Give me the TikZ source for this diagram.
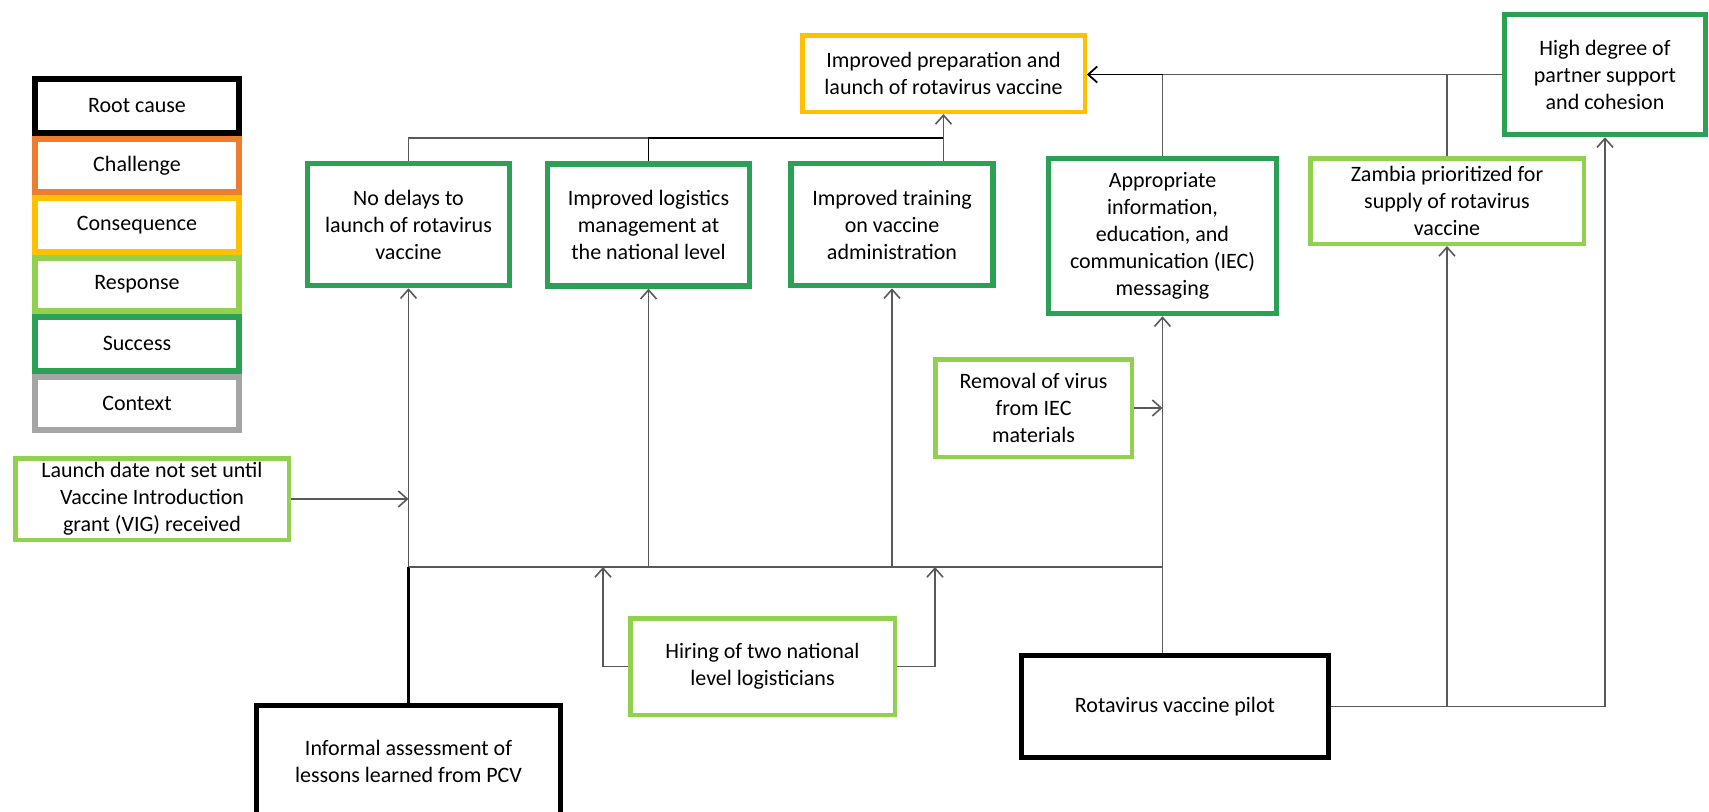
\documentclass[tikz,border=0pt]{standalone}
\usepackage{fontspec}
\setmainfont{Carlito}
\usetikzlibrary{positioning,arrows.meta}
\definecolor{croot}{RGB}{0,0,0}
\definecolor{cchall}{RGB}{237,125,49}
\definecolor{ccons}{RGB}{255,192,0}
\definecolor{cresp}{RGB}{146,208,80}
\definecolor{csucc}{RGB}{44,160,84}
\definecolor{cctx}{RGB}{165,165,165}
\definecolor{cline}{RGB}{89,89,89}

\begin{document}
\begin{tikzpicture}[x=0.5pt,y=-0.5pt,
  font=\fontsize{11}{13.5}\selectfont,
  box/.style={draw,fill=white,align=center,inner sep=2pt},
  key/.style={box,line width=3pt,minimum width=102pt,minimum height=26.75pt},
  root/.style={box,draw=croot,line width=2.5pt},
  cons/.style={box,draw=ccons,line width=2.25pt},
  resp/.style={box,draw=cresp,line width=2.25pt},
  succ/.style={box,draw=csucc,line width=2.75pt},
  link/.style={cline,line width=0.8pt},
  arr/.style={link,-{Straight Barb[length=4.5pt,width=8pt]}},
  rootln/.style={croot,line width=1.5pt},
]
\useasboundingbox (0,0) rectangle (1709,811);

% legend
\node[key,draw=croot] (kroot) at (137,105.75) {Root cause};
\node[key,draw=cchall,below=0pt of kroot] (kchall) {Challenge};
\node[key,draw=ccons,below=0pt of kchall] (kcons) {Consequence};
\node[key,draw=cresp,below=0pt of kcons] (kresp) {Response};
\node[key,draw=csucc,below=0pt of kresp] (ksucc) {Success};
\node[key,draw=cctx,below=0pt of ksucc] (kctx) {Context};

% outcome at the top
\node[cons,minimum width=141.25pt,minimum height=38.25pt] (prep) at (943.5,73.5)
  {Improved preparation and\\launch of rotavirus vaccine};

% successes
\node[succ,minimum width=101pt,minimum height=61pt] (nodelay) at (408.5,224.5)
  {No delays to\\launch of rotavirus\\vaccine};
\node[succ,minimum width=101pt,minimum height=61pt] (logist) at (648.5,225)
  {Improved logistics\\management at\\the national level};
\node[succ,minimum width=101pt,minimum height=61pt] (train) at (892,224.5)
  {Improved training\\on vaccine\\administration};
\node[succ,minimum width=114pt,minimum height=77.5pt] (iec) at (1162.5,236)
  {Appropriate\\information,\\education, and\\communication (IEC)\\messaging};
\node[succ,minimum width=100.5pt,minimum height=60pt] (partner) at (1605,74.5)
  {High degree of\\partner support\\and cohesion};

% responses
\node[resp,minimum width=136.75pt,minimum height=42.75pt] (zambia) at (1447,201)
  {Zambia prioritized for\\supply of rotavirus\\vaccine};
\node[resp,minimum width=136.75pt,minimum height=40.75pt] (launch) at (152,499)
  {Launch date not set until\\Vaccine Introduction\\grant (VIG) received};
\node[resp,minimum width=98.25pt,minimum height=48.75pt] (removal) at (1033.5,408)
  {Removal of virus\\from IEC\\materials};
\node[resp,minimum width=132.25pt,minimum height=48.25pt] (hiring) at (762.5,666.5)
  {Hiring of two national\\level logisticians};

% root causes
\node[root,minimum width=152pt,minimum height=56pt] (pcv) at (408.5,761.5)
  {Informal assessment of\\lessons learned from PCV};
\node[root,minimum width=153.5pt,minimum height=51pt] (pilot) at (1175,706.5)
  {Rotavirus vaccine pilot};

% junction points
\coordinate (topjoin) at (943.5,138);
\coordinate (busL) at (408.5,567);
\coordinate (busR) at (1162.5,567);
\coordinate (hirL) at (603,567);
\coordinate (hirR) at (935,567);

% successes into the outcome
\draw[link] (nodelay.north) |- (topjoin);
\draw[link,croot] (logist.north) |- (topjoin);
\draw[arr] (train.north -| prep.south) -- (prep.south);
\draw[arr] (partner.west) -- (partner.west -| prep.east);
\draw[link] (iec.north) -- (iec.north |- partner.west);
\draw[link] (zambia.north) -- (zambia.north |- partner.west);
\draw[arr,croot] (iec.north |- partner.west) -- (partner.west -| prep.east);

% lessons from PCV feed the bus
\draw[rootln] (pcv.north) -- (busL);
\draw[link] (busL) -- (busR);
\draw[arr] (busL) -- (nodelay.south);
\draw[arr] (busL -| logist.south) -- (logist.south);
\draw[arr] (busL -| train.south) -- (train.south);
\draw[arr] (busR) -- (iec.south);
\draw[link] (pilot.north -| busR) -- (busR);

% side inputs
\draw[arr] (launch.east) -- (launch.east -| nodelay.south);
\draw[arr] (removal.east) -- (removal.east -| iec.south);
\draw[arr] (hiring.west) -| (hirL);
\draw[arr] (hiring.east) -| (hirR);

% pilot to the right-hand boxes
\draw[arr] (pilot.east) -| (zambia.south);
\draw[arr] (pilot.east) -| (partner.south);
\end{tikzpicture}
\end{document}
